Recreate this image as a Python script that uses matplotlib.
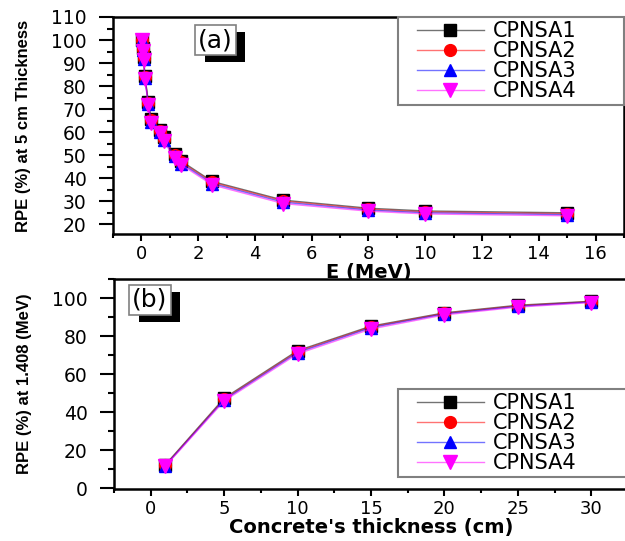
import matplotlib
matplotlib.use("Agg")
import matplotlib.pyplot as plt
import matplotlib.patheffects as pe
from matplotlib.legend_handler import HandlerLine2D
from matplotlib.ticker import MultipleLocator

# relative photon efficiency vs energy, 5 cm concrete
energy = [0.015, 0.0595, 0.081, 0.122, 0.245, 0.344, 0.662, 0.779, 1.173, 1.408, 2.5, 5, 8, 10, 15]
rpe_a1 = [100.0, 96.6, 92.8, 84.6, 73.2, 65.6, 61.1, 57.7, 50.5, 47.4, 38.6, 30.5, 27.0, 25.8, 25.0]
rpe_a2 = [100.0, 96.1, 92.3, 84.1, 72.7, 65.1, 60.6, 57.2, 50.0, 46.9, 38.2, 30.1, 26.6, 25.4, 24.6]
rpe_a3 = [100.0, 95.6, 91.8, 83.6, 72.2, 64.6, 60.1, 56.7, 49.5, 46.4, 37.7, 29.6, 26.2, 25.0, 24.2]
rpe_a4 = [99.9, 95.1, 91.2, 83.0, 71.6, 64.0, 59.5, 56.1, 48.9, 45.8, 37.1, 29.0, 25.7, 24.5, 23.7]

# relative photon efficiency at 1.408 MeV vs thickness
thick = [1, 5, 10, 15, 20, 25, 30]
rpe_b1 = [12.3, 47.3, 72.3, 85.2, 92.2, 96.2, 98.3]
rpe_b2 = [12.0, 46.8, 71.8, 84.8, 91.9, 95.9, 98.1]
rpe_b3 = [11.8, 46.4, 71.3, 84.4, 91.6, 95.6, 97.9]
rpe_b4 = [11.5, 45.8, 70.6, 83.7, 91.1, 95.2, 97.6]

names = ["CPNSA1", "CPNSA2", "CPNSA3", "CPNSA4"]
colors = ["black", "red", "blue", "magenta"]
markers = ["s", "o", "^", "v"]
msizes = [8, 8.5, 9, 9.5]

plt.rcParams["font.family"] = ["DejaVu Sans"]

fig = plt.figure(figsize=(6.25, 5.41), dpi=100)
ax1 = fig.add_axes([113 / 625, 1 - 234 / 541, 511 / 625, 217 / 541])
ax2 = fig.add_axes([114 / 625, 1 - 489 / 541, 514 / 625, 210 / 541])


def draw(ax, x, ys):
    for y, c, m, ms, n in zip(ys, colors, markers, msizes, names):
        rgba = matplotlib.colors.to_rgba(c, 0.55)
        ax.plot(x, y, color=rgba, lw=1.0, marker=m, ms=ms, mfc=c, mec=c,
                label=n)


def style(ax):
    for s in ax.spines.values():
        s.set_linewidth(1.8)
    ax.tick_params(axis="y", which="major", direction="out", length=10,
                   width=1.5, labelsize=13.5, pad=9)
    ax.tick_params(axis="y", which="minor", direction="out", length=4,
                   width=1.5)
    ax.tick_params(axis="x", which="major", direction="out", length=5,
                   width=1.5, labelsize=13, pad=3)
    ax.tick_params(axis="x", which="minor", direction="out", length=3,
                   width=1.5)


def tag(ax, x, y, s):
    t = ax.text(x, y, s, transform=ax.transAxes, fontsize=18, ha="center",
                va="center",
                bbox=dict(boxstyle="square,pad=0.12", fc="white", ec="gray",
                          lw=1.2))
    t.get_bbox_patch().set_path_effects(
        [pe.SimplePatchShadow(offset=(7, -5), shadow_rgbFace="black", alpha=1),
         pe.Normal()])


def legend(ax, anchor, loc):
    lg = ax.legend(loc=loc, bbox_to_anchor=anchor, mode="expand",
                   borderaxespad=0, fontsize=15, handlelength=3.9,
                   handletextpad=0.45, labelspacing=0.0, borderpad=0.2,
                   fancybox=False, framealpha=1, edgecolor="gray",
                   handler_map={matplotlib.lines.Line2D: HandlerLine2D(xpad=0.7)})
    lg.get_frame().set_linewidth(1.5)


# panel (a)
draw(ax1, energy, [rpe_a1, rpe_a2, rpe_a3, rpe_a4])
ax1.set_xlim(-1, 17)
ax1.set_ylim(15.8, 110)
ax1.xaxis.set_major_locator(MultipleLocator(2))
ax1.xaxis.set_minor_locator(MultipleLocator(1))
ax1.yaxis.set_major_locator(MultipleLocator(10))
ax1.yaxis.set_minor_locator(MultipleLocator(5))
style(ax1)
ax1.set_xlabel("E (MeV)", fontsize=14, fontweight="bold", va="top")
ax1.xaxis.set_label_coords(0.5, -0.135)
ax1.set_ylabel("RPE (%) at 5 cm Thickness", fontsize=12,
               family="Liberation Sans", fontweight="bold")
ax1.yaxis.set_label_coords(-0.16, 0.5)
legend(ax1, (0.558, 0.0, 0.442, 1.0), "upper left")
tag(ax1, 0.2, 0.893, "(a)")

# panel (b)
draw(ax2, thick, [rpe_b1, rpe_b2, rpe_b3, rpe_b4])
ax2.set_xlim(-2.5, 32.5)
ax2.set_ylim(-0.5, 110)
ax2.xaxis.set_major_locator(MultipleLocator(5))
ax2.xaxis.set_minor_locator(MultipleLocator(2.5))
ax2.yaxis.set_major_locator(MultipleLocator(20))
ax2.yaxis.set_minor_locator(MultipleLocator(10))
style(ax2)
ax2.set_xlabel("Concrete's thickness (cm)", fontsize=14, fontweight="bold",
               va="top")
ax2.xaxis.set_label_coords(0.5, -0.14)
ax2.set_ylabel("RPE (%) at 1.408 (MeV)", fontsize=12,
               family="Liberation Sans", fontweight="bold")
ax2.yaxis.set_label_coords(-0.16, 0.5)
legend(ax2, (0.553, 0.057, 0.47, 0.5), "lower left")
tag(ax2, 0.07, 0.902, "(b)")

fig.savefig("out.png", dpi=100)
